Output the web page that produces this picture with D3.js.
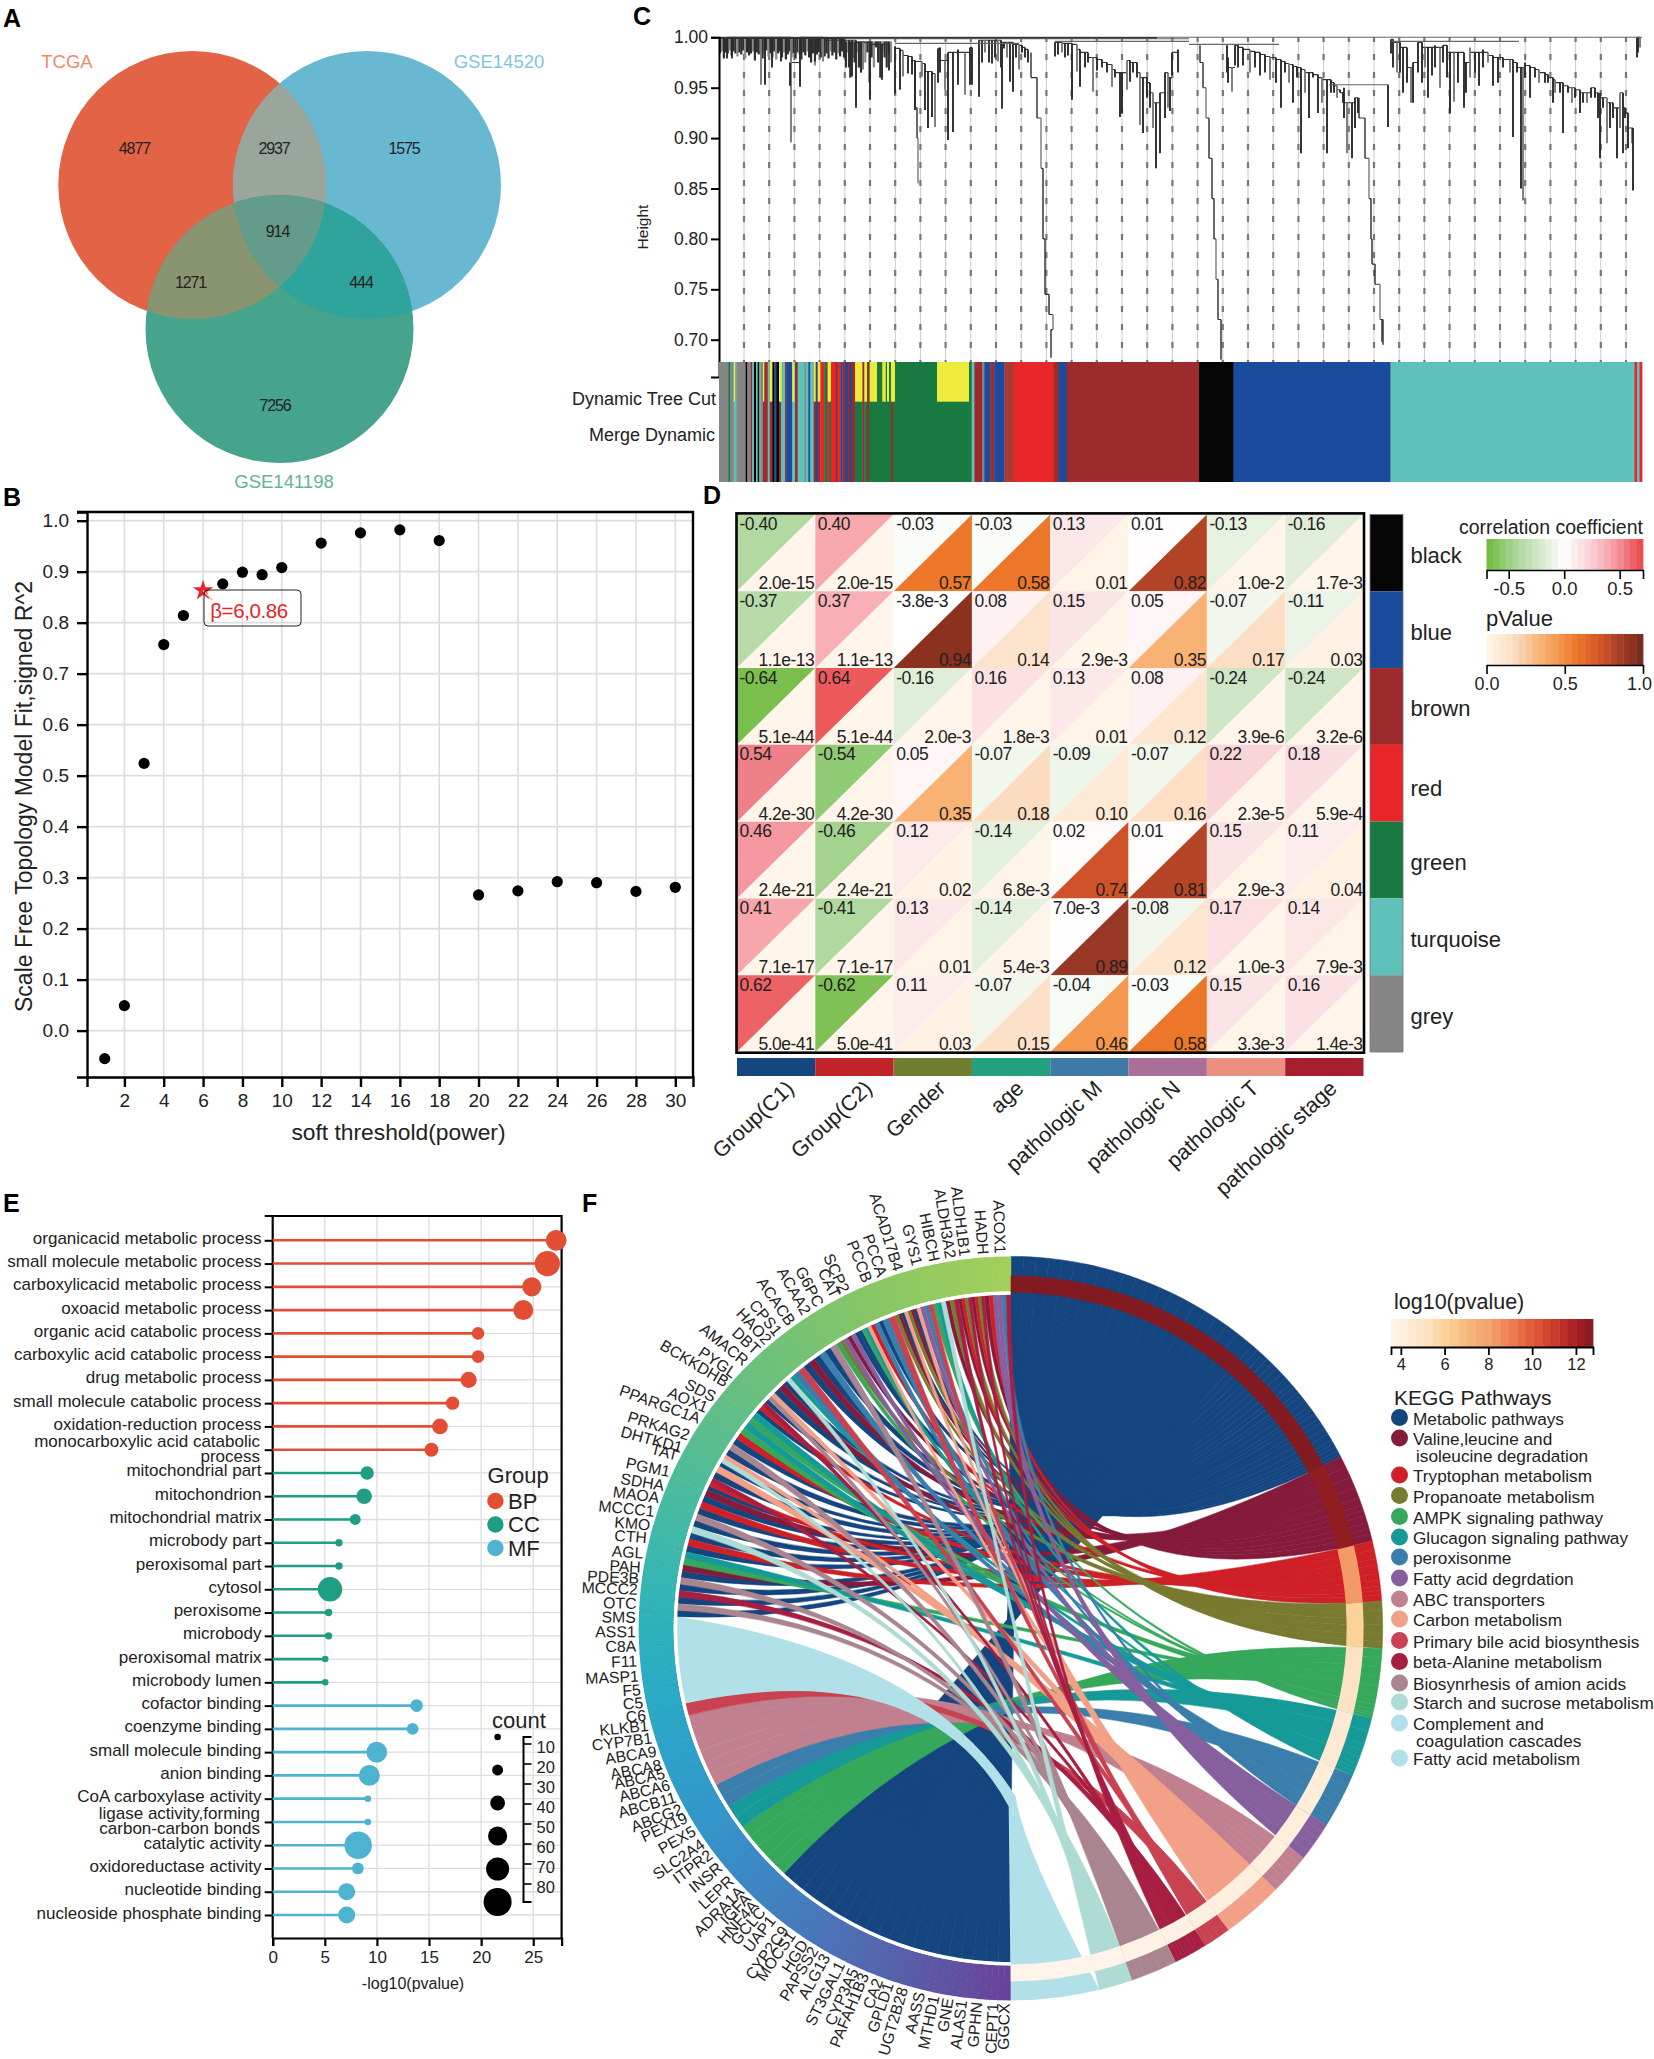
<!DOCTYPE html>
<html>
<head>
<meta charset="utf-8">
<script src="https://cdn.jsdelivr.net/npm/d3@7"></script>
<style>
body { margin: 0; background: #fff; }
text { font-family: "Liberation Sans", Arial, sans-serif; fill: #222; }
</style>
</head>
<body>
<svg id="fig" width="1654" height="2059"></svg>
<script>
// ---------- data ----------
// A: venn
const vennSets = ["TCGA", "GSE14520", "GSE141198"];
const vennColors = ["#e26346", "#68b8d2", "#46a48c"];
const vennLabelColors = ["#ef8a6f", "#7fc6dc", "#62b49e"];
const vennCounts = [4877, 2937, 1575, 914, 1271, 444, 7256];

// B: soft threshold
const powers = [1, 2, 3, 4, 5, 7, 8, 9, 10, 12, 14, 16, 18, 20, 22, 24, 26, 28, 30];
const fitValues = [-0.055, 0.049, 0.524, 0.757, 0.814, 0.876, 0.899, 0.894, 0.908, 0.956, 0.976, 0.982, 0.961, 0.266, 0.274, 0.292, 0.29, 0.273, 0.281];
const chosenPower = [6, 0.863];

// C: dendrogram stems are [leaf position, merge height, bottom height]
const fringeLeft = [.984, .986, .979, .985, .984, .987, .982, .986, .984, .981, .985, .983, .987, .979, .985, .982, .984, .986, .977, .985,
  .983, .986, .979, .984, .987, .981, .984, .98, .986, .978, .984, .986, .98, .985, .978, .983, .986, .98, .984, .979, .985, .983, .978, .985, .982, .986, .98, .975, .984, .972,
  .983, .985, .98, .986, .981, .984, .979, .986, .982, .985, .978, .984, .981, .986, .98];
const fringeMid = [.97, .985, .96, .98, .975, .985, .97, .965, .99, .975, .985, .955, .98, .97, .99, .975, .96, .985, .98, .97, .985, .975];
const longStems = [[8, 1, .979], [13, 1, .979], [42, 1, .953], [46, 1, .953], [53, 1, .97], [62, 1, .976], [72, 1, .896], [71, .975, .952], [81, 1, .951], [96, 1, .976], [104, 1, .976], [130, .997, .97],
  [133, .997, .961], [137, .997, .93], [144, .995, .968], [151, .995, .938], [163, .993, .958], [170, .993, .967]];
const stairA = [[176, .991, .944], [181, .989, .948], [184, .987, .961], [189, .982, .964], [193, .981, .963], [196, .977, .928], [203, .976, .961], [206, .974, .928], [209, .966, .91], [213, .966, .921], [216, .964, .911]];
const chainShort = [[196, .977, .93], [198, .93, .9], [199, .9, .855]];
const clusterB = [[219, .989, .955], [221, .99, .965], [226, .977, .948], [229, .985, .898], [234, .985, .906], [239, .988, .953], [246, .985, .943], [251, .99, .953], [253, .99, .953]];
const runMid = [[260, .997, .941], [263, .997, .975], [266, .997, .985], [270, .997, .975], [273, .997, .974], [276, .997, .98], [279, .997, .976], [282, .997, .97], [285, .995, .989], [283, .995, .929],
  [288, .995, .98], [291, .995, .956], [294, .995, .946], [297, .993, .98], [300, .993, .968], [303, .992, .985], [306, .99, .98], [309, .988, .975]];
const chainA = [[312, .985, .96], [318, .96, .92], [322, .92, .87], [324, .87, .8], [326, .8, .745], [330, .745, .725], [334, .725, .71], [332, .71, .682]];
const stairB = [[336, .995, .981], [339, .995, .983], [343, .995, .985], [346, .994, .98], [349, .994, .982], [353, .994, .938], [358, .993, .966], [361, .988, .951], [366, .985, .97], [369, .985, .975],
  [374, .98, .946], [378, .98, .967], [383, .978, .97], [388, .975, .965], [393, .973, .951], [396, .968, .96], [401, .965, .921], [403, .965, .925], [408, .977, .948], [411, .977, .956], [414, .975, .965], [418, .975, .96],
  [421, .965, .913], [424, .96, .905], [428, .96, .94], [431, .955, .93], [434, .945, .91], [437, .935, .87], [441, .945, .885], [446, .965, .92], [449, .965, .93], [451, .96, .927], [453, .985, .962], [459, .988, .965]];
const chainB = [[481, .992, .975], [484, .975, .95], [487, .95, .92], [490, .92, .88], [493, .88, .84], [495, .84, .8], [497, .8, .76], [499, .76, .72], [502, .72, .68]];
const stairC = [[508, .992, .965], [509, .98, .955], [513, .97, .946], [516, .992, .972], [519, .992, .97], [524, .99, .972], [531, .988, .965], [536, .986, .97], [541, .985, .962], [546, .983, .965],
  [551, .981, .958], [557, .98, .955], [562, .978, .93], [566, .976, .965], [570, .974, .955], [574, .973, .935], [578, .971, .96], [582, .97, .885], [586, .968, .945], [590, .965, .92], [594, .965, .96],
  [599, .963, .925], [603, .96, .935], [608, .958, .885], [612, .958, .945], [615, .955, .945], [618, .952, .94], [621, .948, .945], [624, .945, .935], [625, .95, .92], [628, .935, .885], [633, .935, .88], [636, .94, .91], [639, .94, .925]];
const chainC = [[640, .94, .92], [646, .92, .88], [650, .88, .84], [652, .84, .8], [653, .8, .775], [656, .775, .755], [661, .755, .72], [664, .72, .695], [663, .72, .698]];
const stemsEnd = [[669, .953, .911]];
const stairD = [[672, .998, .984], [674, .998, .97], [678, .995, .965], [681, .995, .965], [684, .99, .945], [688, .99, .955], [692, .97, .935], [694, .975, .935], [699, .995, .965], [703, .995, .955], [706, .99, .97], [709, .99, .94],
  [713, .99, .962], [716, .992, .97], [721, .99, .95], [724, .992, .975], [728, .992, .96], [731, .985, .925], [735, .985, .936], [739, .985, .955], [745, .985, .93], [747, .975, .945], [751, .99, .96], [756, .985, .965], [760, .985, .952],
  [764, .988, .97], [769, .985, .975], [774, .982, .952], [779, .98, .955], [784, .98, .97], [791, .978, .965], [794, .978, .901], [798, .975, .965], [802, .97, .85], [804, .97, .838], [806, .975, .96], [811, .972, .94], [816, .97, .96], [820, .968, .955],
  [826, .965, .955], [829, .963, .955], [834, .96, .935], [836, .958, .945], [841, .955, .945], [844, .955, .905], [849, .952, .945], [853, .95, .935], [856, .95, .94], [861, .948, .925], [864, .945, .935], [868, .945, .935], [872, .95, .94], [876, .95, .94], [879, .945, .92]];
const stairE = [[881, .945, .88], [884, .94, .93], [888, .94, .895], [891, .935, .91], [894, .935, .92], [898, .93, .88], [901, .945, .91], [904, .945, .885], [906, .93, .92], [909, .925, .89], [913, .91, .895], [914, .91, .848]];
const stemsTail = [[918, 1, .98], [919, 1, .985], [921, 1, .99]];
const mergeLines = [[0, 923, 1], [0, 438, .9993], [125, 470, .9985], [176, 300, .994], [336, 470, .996], [470, 560, .993], [610, 669, .953], [672, 800, .996]];

// module stripes: [leaf position where the stripe ends, colour key]
const moduleColor = { k: "#050505", b: "#1a4b9c", n: "#9d2a2c", r: "#e82528", g: "#187a40", t: "#5ec2bb", e: "#858585", y: "#eeea3c", o: "#a83a34" };
const bandStripes = [[9.3, "e"], [11.3, "g"], [14.7, "e"], [17.3, "t"], [26.7, "e"], [28.3, "k"], [31.7, "e"], [33.3, "n"], [35, "t"], [37, "k"], [38.7, "t"], [40.3, "k"], [41.7, "t"], [44, "e"], [48.7, "n"], [50.7, "t"], [53.3, "n"],
  [55.3, "k"], [57.3, "b"], [60, "k"], [62, "n"], [66, "t"], [67.3, "n"], [73.3, "b"], [76, "t"], [78.7, "n"], [85.3, "t"], [86.7, "e"], [89.3, "t"], [91.3, "b"], [94.7, "t"], [96.7, "n"], [98.7, "b"], [101.3, "n"], [105.3, "r"],
  [108, "g"], [110, "r"], [112, "g"], [116.7, "r"], [118.7, "n"], [121.3, "r"], [123.3, "b"], [126, "n"], [128.7, "b"], [130.7, "n"], [132.7, "b"], [136, "n"], [143.3, "g"], [145.3, "n"], [148, "g"], [150, "n"], [172, "g"], [174, "n"],
  [252.7, "g"], [255.3, "t"], [263.3, "n"], [265.3, "e"], [271.3, "b"], [275.3, "n"], [285.3, "b"], [294.7, "o"], [334.7, "r"], [339.6, "n"], [347.6, "b"], [480, "n"], [514.5, "k"], [671.5, "b"], [915.5, "t"], [918, "r"], [920.5, "t"], [923, "r"]];
const yellowRanges = [[14.7, 16], [44, 45.3], [50.7, 53.3], [60, 62.7], [73.3, 75.3], [94.7, 96.7], [98.7, 101.3], [108.7, 112], [136, 143.3], [145.3, 148], [150.7, 158], [163.3, 166.7], [168, 170], [172, 176], [218, 250]];
const guideStart = 25, guideStep = 25.2;

// D: module / trait correlation
const modules = ["black", "blue", "brown", "red", "green", "turquoise", "grey"];
const traits = ["Group(C1)", "Group(C2)", "Gender", "age", "pathologic M", "pathologic N", "pathologic T", "pathologic stage"];
const traitColors = ["#14467f", "#c02428", "#6f7f2f", "#25a07f", "#3f7aa5", "#a96f96", "#eb9080", "#a71e2e"];
const moduleBarColors = ["#050505", "#1a4b9c", "#9d2a2c", "#e82528", "#187a40", "#5ec2bb", "#858585"];
const corrText = [
  ["-0.40", "0.40", "-0.03", "-0.03", "0.13", "0.01", "-0.13", "-0.16"],
  ["-0.37", "0.37", "-3.8e-3", "0.08", "0.15", "0.05", "-0.07", "-0.11"],
  ["-0.64", "0.64", "-0.16", "0.16", "0.13", "0.08", "-0.24", "-0.24"],
  ["0.54", "-0.54", "0.05", "-0.07", "-0.09", "-0.07", "0.22", "0.18"],
  ["0.46", "-0.46", "0.12", "-0.14", "0.02", "0.01", "0.15", "0.11"],
  ["0.41", "-0.41", "0.13", "-0.14", "7.0e-3", "-0.08", "0.17", "0.14"],
  ["0.62", "-0.62", "0.11", "-0.07", "-0.04", "-0.03", "0.15", "0.16"]];
const pText = [
  ["2.0e-15", "2.0e-15", "0.57", "0.58", "0.01", "0.82", "1.0e-2", "1.7e-3"],
  ["1.1e-13", "1.1e-13", "0.94", "0.14", "2.9e-3", "0.35", "0.17", "0.03"],
  ["5.1e-44", "5.1e-44", "2.0e-3", "1.8e-3", "0.01", "0.12", "3.9e-6", "3.2e-6"],
  ["4.2e-30", "4.2e-30", "0.35", "0.18", "0.10", "0.16", "2.3e-5", "5.9e-4"],
  ["2.4e-21", "2.4e-21", "0.02", "6.8e-3", "0.74", "0.81", "2.9e-3", "0.04"],
  ["7.1e-17", "7.1e-17", "0.01", "5.4e-3", "0.89", "0.12", "1.0e-3", "7.9e-3"],
  ["5.0e-41", "5.0e-41", "0.03", "0.15", "0.46", "0.58", "3.3e-3", "1.4e-3"]];

// E: enrichment lollipops
const terms = ["organicacid metabolic process", "small molecule metabolic process", "carboxylicacid metabolic process", "oxoacid metabolic process",
  "organic acid catabolic process", "carboxylic acid catabolic process", "drug metabolic process", "small molecule catabolic process", "oxidation-reduction process",
  "monocarboxylic acid catabolic|process", "mitochondrial part", "mitochondrion", "mitochondrial matrix", "microbody part", "peroxisomal part", "cytosol", "peroxisome",
  "microbody", "peroxisomal matrix", "microbody lumen", "cofactor binding", "coenzyme binding", "small molecule binding", "anion binding", "CoA carboxylase activity",
  "ligase activity,forming|carbon-carbon bonds", "catalytic activity", "oxidoreductase activity", "nucleotide binding", "nucleoside phosphate binding"];
const termGroups = ["BP", "CC", "MF"];
const groupColors = ["#e24e34", "#1f9e83", "#4db3cf"];
const termLogP = [27.2, 26.35, 24.86, 24.04, 19.7, 19.7, 18.8, 17.26, 16.05, 15.23, 9.06, 8.77, 7.92, 6.36, 6.36, 5.5, 5.36, 5.36, 5.04, 5.04, 13.81, 13.42, 9.98, 9.27, 9.13, 9.13, 8.2, 8.17, 7.1, 7.1];
const termCount = [59, 75, 53, 56, 29, 29, 42, 32, 40, 34, 32, 40, 23, 10, 10, 72, 10, 10, 7, 7, 29, 26, 59, 59, 7, 7, 83, 26, 45, 45];
const countTicks = [10, 20, 30, 40, 50, 60, 70, 80];
const countLegend = [7, 23, 37, 53, 67, 85];

// F: KEGG chord
const pathways = ["Metabolic pathways", "Valine,leucine and|isoleucine degradation", "Tryptophan metabolism", "Propanoate metabolism", "AMPK signaling pathway", "Glucagon signaling pathway",
  "peroxisonme", "Fatty acid degrdation", "ABC transporters", "Carbon metabolism", "Primary bile acid biosynthesis", "beta-Alanine metabolism", "Biosynrhesis of amion acids",
  "Starch and sucrose metabolism", "Complement and|coagulation cascades", "Fatty acid metabolism"];
const pathwayColors = ["#14457f", "#841b3b", "#cf2027", "#787a30", "#36a85c", "#169a98", "#3a7eab", "#855f9e", "#c0808f", "#f2a188", "#c84252", "#a61e42", "#a98590", "#aedbd3", "#b2e0e8", "#b2e0e8"];
const pathwayShare = [62.5, 13.9, 9.4, 7.3, 10.9, 9.3, 8.6, 6.2, 6.5, 9.6, 4.3, 5.2, 7.3, 5.2, 13.8];
const pathwayLogP = [12.7, 12.4, 8.2, 6, 5, 4.4, 4.2, 4.1, 4, 4, 3.9, 3.8, 3.7, 3.6, 3.6];
const complementIndex = 14;
const lowerGenes = ["GGCX", "CEPT1", "GPHN", "ALAS1", "GNE", "MTHD1", "AASS", "UGT2B28", "GPLD1", "CA2", "PAFAH1B3", "CYP3A5", "ST3GAL1", "ALG13", "PAPSS2", "HGD", "MOCS1", "CYP2C9", "UAP1", "GCLC",
  "HNF4A", "IGFA", "ADRA1A", "LEPR", "INSR", "ITPR2", "SLC2A4", "PEX5", "PEX19", "ABCG2", "ABCB11", "ABCA6", "ABCA5", "ABCA8", "ABCA9", "CYP7B1", "KLKB1", "C6", "C5", "F5", "MASP1", "F11", "C8A"];
const lowerPaths = [0, 0, 0, 0, 0, 0, 0, 0, 0, 0, 0, 0, 0, 0, 0, 0, 0, 0, 0, 0, 4, 4, 4, 4, 4, 5, 5, 6, 6, 8, 8, 8, 8, 8, 8, 10, 14, 14, 14, 14, 14, 14, 14];
const lowerLabelAngles = [181, 182.7, 185.2, 187.5, 189.6, 191.8, 194, 196.7, 199, 200.7, 203, 204.7, 207, 209.5, 211.6, 213.4, 215.7, 217, 219.5, 221.5,
  223, 224.5, 226, 228.2, 230.8, 233.2, 235.2, 237.5, 239.8, 241.3, 243.3, 245.4, 247.3, 248.7, 250.9, 253, 255, 256.6, 258.6, 260.6, 262.7, 265, 267.3];
const upperGenes = ["ASS1", "SMS", "OTC", "MCCC2", "PDE3B", "PAH", "AGL", "CTH", "KMO", "MCCC1", "MAOA", "SDHA", "PGM1", "TAT", "DHTKD1", "PRKAG2", "PPARGC1A", "AOX1", "SDS", "BCKKDHB",
  "PYGL", "AMACR", "DBT", "HAO2", "CPS1", "ACACB", "ACAA2", "G6PC", "CAT", "SCP2", "PCCB", "PCCA", "ACAD17B4", "GYS1", "HIBCH", "ALDH3A2", "ALDH1B1", "HADH", "ACOX1"];
const upperPaths = [[0, 12], [0, 11], [0, 12], [0, 1], [4, 5], [0, 2], [0, 13], [0, 12], [0, 2], [0, 1], [0, 2, 11], [0, 9], [0, 13, 9], [0, 12], [0, 2], [4, 5], [4, 5], [0, 2, 11], [0, 12, 9], [0, 1],
  [0, 13, 5], [6, 10], [0, 1], [0, 6], [0, 12], [4, 3, 7], [1, 7, 0], [0, 4, 5, 9], [2, 6, 0], [6, 10], [3, 1, 0, 9], [3, 1, 0, 9], [7, 6, 10], [4, 5, 13], [1, 3, 11], [1, 2, 3, 11], [1, 2, 3, 11], [1, 2, 7], [7, 6, 11]];
const upperLabelAngles = [269.5, 271.7, 273.8, 276, 277.7, 279.4, 281.6, 284, 286, 288.2, 290.4, 292.4, 294.7, 297.5, 298.8, 301, 304, 306, 308, 310.9,
  312.7, 315.2, 317.6, 319.8, 321.8, 324.3, 327.1, 329.4, 332.2, 333.8, 337.6, 340, 342.6, 345.6, 348.3, 350.8, 353, 355.8, 358.4];
const ringStops = ["#6a4299", "#4a74b8", "#2e9ad0", "#25b4c0", "#5abd90", "#7ec367", "#a4d05a"];

// ---------- helpers ----------
const svg = d3.select("#fig");
const rad = d => d * Math.PI / 180;

function txt(g, x, y, s, size, opts = {}) {
  return g.append("text").attr("x", x).attr("y", y).text(s)
    .attr("font-size", size)
    .attr("text-anchor", opts.anchor || "start")
    .attr("dominant-baseline", "central")
    .attr("letter-spacing", opts.spacing || null)
    .attr("font-weight", opts.weight || null)
    .style("fill", opts.fill || null);
}

function styleAxis(g, size, width) {
  g.selectAll("text").attr("font-size", size).style("font-family", '"Liberation Sans", Arial, sans-serif').style("fill", "#222");
  g.selectAll("line, path").attr("stroke", "#000").attr("stroke-width", width);
}

// panel letters
[["A", 3, 18], ["B", 3, 497], ["C", 633, 16], ["D", 703, 495], ["E", 3, 1203], ["F", 582, 1203]].forEach(d => {
  txt(svg, d[1], d[2], d[0], 25, { weight: "bold" }).style("fill", "#000");
});

// ---------- A venn ----------
const gA = svg.append("g");
const vennR = 134;
const vennPos = [[192.3, 185], [367, 185], [279.5, 329]];
const defs = svg.append("defs");
vennPos.forEach((p, i) => {
  defs.append("clipPath").attr("id", "clip" + i).append("circle").attr("cx", p[0]).attr("cy", p[1]).attr("r", vennR);
});
vennPos.forEach((p, i) => {
  gA.append("circle").attr("cx", p[0]).attr("cy", p[1]).attr("r", vennR).attr("fill", vennColors[i]);
});
// overlaps
const overlapFills = [[0, 1, "#9aa59c"], [0, 2, "#889570"], [1, 2, "#2ea49c"]];
overlapFills.forEach(o => {
  gA.append("g").attr("clip-path", `url(#clip${o[0]})`).append("circle")
    .attr("cx", vennPos[o[1]][0]).attr("cy", vennPos[o[1]][1]).attr("r", vennR).attr("fill", o[2]);
});
gA.append("g").attr("clip-path", "url(#clip0)").append("g").attr("clip-path", "url(#clip1)").append("circle")
  .attr("cx", vennPos[2][0]).attr("cy", vennPos[2][1]).attr("r", vennR).attr("fill", "#649c8c");
const vennNumPos = [[134.4, 148], [274, 148], [404, 148], [277.5, 231], [190.5, 282], [361, 282], [275, 405]];
vennCounts.forEach((c, i) => txt(gA, vennNumPos[i][0], vennNumPos[i][1], c, 16, { anchor: "middle", spacing: "-1.1px" }));
[[67, 61], [499, 61], [284, 481]].forEach((p, i) => txt(gA, p[0], p[1], vennSets[i], 18.5, { anchor: "middle", fill: vennLabelColors[i] }));

// ---------- B scatter ----------
const gB = svg.append("g");
const xB = d3.scaleLinear().domain([0.1, 30.9]).range([87, 693]);
const yB = d3.scaleLinear().domain([-0.091, 1.017]).range([1077, 512]);
const xTicksB = d3.range(2, 31, 2);
const yTicksB = d3.range(0, 11).map(d => d / 10);
gB.append("g").selectAll("line").data(xTicksB).join("line")
  .attr("x1", d => xB(d)).attr("x2", d => xB(d)).attr("y1", 512).attr("y2", 1077).attr("stroke", "#ddd").attr("stroke-width", 1.6);
gB.append("g").selectAll("line").data(yTicksB).join("line")
  .attr("x1", 87).attr("x2", 693).attr("y1", d => yB(d)).attr("y2", d => yB(d)).attr("stroke", "#ddd").attr("stroke-width", 1.6);
const axB = gB.append("g").attr("transform", "translate(0,1077)")
  .call(d3.axisBottom(xB).tickValues(xTicksB).tickSize(10).tickSizeOuter(10).tickPadding(7));
styleAxis(axB, 19, 2.4);
const ayB = gB.append("g").attr("transform", "translate(87,0)")
  .call(d3.axisLeft(yB).tickValues(yTicksB).tickFormat(d3.format(".1f")).tickSize(10).tickSizeOuter(10).tickPadding(8));
styleAxis(ayB, 19, 2.4);
gB.append("path").attr("d", "M77,512H693V1077").attr("fill", "none").attr("stroke", "#000").attr("stroke-width", 2.4);
gB.selectAll("circle.pt").data(d3.zip(powers, fitValues)).join("circle").attr("class", "pt")
  .attr("cx", d => xB(d[0])).attr("cy", d => yB(d[1])).attr("r", 5.6).attr("fill", "#000");
gB.append("path").attr("transform", `translate(${xB(chosenPower[0])},${yB(chosenPower[1])})`)
  .attr("d", d3.symbol(d3.symbolStar, 130)()).attr("fill", "#e8232a");
gB.append("line").attr("x1", xB(6)).attr("y1", yB(.863)).attr("x2", 212).attr("y2", 600).attr("stroke", "#f6b8b0").attr("stroke-width", 1.5);
gB.append("rect").attr("x", 204).attr("y", 590).attr("width", 97).attr("height", 36).attr("rx", 4)
  .attr("fill", "none").attr("stroke", "#222").attr("stroke-width", 1);
txt(gB, 249, 610, "β=6,0.86", 20.5, { anchor: "middle", fill: "#e8232a", spacing: "-0.4px" });
txt(gB, 398.5, 1132, "soft threshold(power)", 22.8, { anchor: "middle" });
txt(gB, 0, 0, "Scale Free Topology Model Fit,signed R^2", 23, { anchor: "middle" })
  .attr("transform", "translate(23.5,796.5) rotate(-90)");

// ---------- C dendrogram ----------
const gC = svg.append("g");
const xC = d3.scaleLinear().domain([0, 923]).range([719, 1642]);
const yC = d3.scaleLinear().domain([1, 0.663]).range([37.3, 377]);
const guides = d3.range(guideStart, 923, guideStep);
gC.append("g").selectAll("line").data(guides).join("line")
  .attr("x1", d => xC(d)).attr("x2", d => xC(d)).attr("y1", 37).attr("y2", 362).attr("stroke", "#c9c9c9").attr("stroke-width", 1);
gC.append("g").selectAll("line").data(guides).join("line")
  .attr("x1", d => xC(d)).attr("x2", d => xC(d)).attr("y1", 37).attr("y2", 362)
  .attr("stroke", "#777").attr("stroke-width", 2.2).attr("stroke-dasharray", "6 12").attr("stroke-dashoffset", 1);

// fringes of short stems come as bottoms over a run of leaves
function drawFringe(bottoms, from, to, top) {
  const leaf = d3.scalePoint().domain(d3.range(bottoms.length)).range([from, to]);
  gC.append("g").selectAll("line").data(bottoms).join("line")
    .attr("x1", (d, i) => xC(leaf(i))).attr("x2", (d, i) => xC(leaf(i)))
    .attr("y1", yC(top)).attr("y2", d => yC(d))
    .attr("stroke", (d, i) => i % 4 === 1 ? "#8a8a8a" : "#2e2e2e").attr("stroke-width", 2.2);
}
drawFringe(fringeLeft, 1, 125, 1);
drawFringe(fringeMid, 127, 172, .996);

function drawStems(stems, width) {
  const g = gC.append("g").attr("fill", "none");
  // merge links between neighbouring stems
  const links = d3.pairs(stems).map(p => `M${xC(p[0][0])},${yC(Math.min(p[0][1], p[1][1]))}H${xC(p[1][0])}`).join("");
  g.append("path").attr("d", links).attr("stroke", "#333").attr("stroke-width", 1.1);
  g.selectAll("line").data(stems).join("line")
    .attr("x1", d => xC(d[0])).attr("x2", d => xC(d[0])).attr("y1", d => yC(d[1])).attr("y2", d => yC(d[2]))
    .attr("stroke", (d, i) => i % 4 === 2 ? "#7a7a7a" : "#2a2a2a").attr("stroke-width", width);
}
[longStems, stairA, clusterB, runMid, stairB, stairC, stairD, stairE, stemsEnd, stemsTail].forEach(s => drawStems(s, 1.9));
[chainShort, chainA, chainB, chainC].forEach(s => drawStems(s, 1.4));
gC.append("g").selectAll("line").data(mergeLines).join("line")
  .attr("x1", d => xC(d[0])).attr("x2", d => xC(d[1])).attr("y1", d => yC(d[2])).attr("y2", d => yC(d[2]))
  .attr("stroke", (d, i) => i === 1 ? "#333" : "#666").attr("stroke-width", (d, i) => i === 1 ? 2.2 : 1.1);

const ayC = gC.append("g").attr("transform", "translate(719,0)")
  .call(d3.axisLeft(yC).tickValues(d3.range(0.7, 1.001, 0.05)).tickFormat(d3.format(".2f")).tickSize(8).tickSizeOuter(8).tickPadding(3));
styleAxis(ayC, 17.5, 2);
txt(gC, 0, 0, "Height", 15.5, { anchor: "middle" }).attr("transform", "translate(642,227) rotate(-90)");
txt(gC, 716, 399, "Dynamic Tree Cut", 18, { anchor: "end" });
txt(gC, 715, 435, "Merge Dynamic", 18, { anchor: "end" });

// colour band: both rows use the merged colours, dynamic row adds yellow
gC.append("g").selectAll("rect").data(bandStripes).join("rect")
  .attr("x", (d, i) => xC(i ? bandStripes[i - 1][0] : 0))
  .attr("width", (d, i) => xC(d[0]) - xC(i ? bandStripes[i - 1][0] : 0) + 0.4)
  .attr("y", 362).attr("height", 120)
  .attr("fill", d => moduleColor[d[1]]);
gC.append("g").selectAll("rect").data(yellowRanges).join("rect")
  .attr("x", d => xC(d[0])).attr("width", d => xC(d[1]) - xC(d[0])).attr("y", 362).attr("height", 39.7)
  .attr("fill", moduleColor.y);

// ---------- D heatmap ----------
const gD = svg.append("g");
const xD = d3.scaleBand().domain(traits).range([737, 1363.5]);
const yD = d3.scaleBand().domain(modules).range([514.5, 1052]);
const corrColor = d3.scaleLinear().domain([-0.7, -0.64, -0.54, -0.4, -0.24, -0.13, 0, 0.13, 0.24, 0.4, 0.54, 0.64, 0.7])
  .range(["#6db83c", "#7abf4d", "#92cb76", "#b2d9a2", "#cfe6c6", "#e6f1e0", "#ffffff", "#fce8e8", "#f8d0d6", "#f8a9ae", "#f08088", "#ec5a5c", "#ea4a4c"]);
const pColor = d3.scaleLinear().domain([0, 0.03, 0.12, 0.18, 0.35, 0.46, 0.57, 0.74, 0.82, 0.89, 0.94, 1])
  .range(["#fff5ea", "#fff2e4", "#fde6d0", "#fbdcc0", "#f7b274", "#f4984f", "#ee7829", "#d05228", "#b24327", "#983725", "#8a3120", "#6f2a1a"]);

const triLine = d3.line();
modules.forEach((m, r) => {
  traits.forEach((t, c) => {
    const x0 = xD(t), x1 = x0 + xD.bandwidth(), y0 = yD(m), y1 = y0 + yD.bandwidth();
    gD.append("path").attr("d", triLine([[x0, y0], [x1, y0], [x0, y1]]) + "Z").attr("fill", corrColor(+corrText[r][c]));
    gD.append("path").attr("d", triLine([[x1, y0], [x1, y1], [x0, y1]]) + "Z").attr("fill", pColor(+pText[r][c]));
    txt(gD, x0 + 2.5, y0 + 9.5, corrText[r][c], 17.5, { spacing: "-0.5px" });
    txt(gD, x1 - 1, y1 - 8, pText[r][c], 17.5, { anchor: "end", spacing: "-0.5px" });
  });
});
gD.append("rect").attr("x", 736.5).attr("y", 513.4).attr("width", 627.5).attr("height", 539.3)
  .attr("fill", "none").attr("stroke", "#000").attr("stroke-width", 2.6);

// module bar and labels
gD.append("g").selectAll("rect").data(modules).join("rect")
  .attr("x", 1370).attr("width", 33).attr("y", d => yD(d)).attr("height", yD.bandwidth())
  .attr("fill", (d, i) => moduleBarColors[i]);
gD.append("rect").attr("x", 1370).attr("y", 514.5).attr("width", 33).attr("height", 537.5).attr("fill", "none").attr("stroke", "#777").attr("stroke-width", 0.8);
modules.forEach((m, i) => txt(gD, 1410.5, yD(m) + yD.bandwidth() / 2 + (m === "red" ? 5 : 2.5), m, 22));

// trait bar and rotated labels
gD.append("g").selectAll("rect").data(traits).join("rect")
  .attr("x", d => xD(d)).attr("width", xD.bandwidth()).attr("y", 1058).attr("height", 18)
  .attr("fill", (d, i) => traitColors[i]);
traits.forEach((t, i) => {
  gD.append("text").text(t).attr("font-size", 21.5).attr("text-anchor", "end")
    .attr("transform", `translate(${xD(t) + xD.bandwidth() / 2 + (i < 2 ? 19 : 14)},1090) rotate(-43)`);
});

// legends
const corrLegend = d3.scaleLinear().domain([-0.7, 0.71]).range([1486.5, 1643]);
const corrSteps = d3.range(-0.7, 0.7, 1.41 / 24);
gD.append("g").selectAll("rect").data(corrSteps).join("rect")
  .attr("x", d => corrLegend(d)).attr("width", 156.5 / 24 + 0.4).attr("y", 539).attr("height", 31)
  .attr("fill", d => corrColor(d + 0.03));
const acl = gD.append("g").attr("transform", "translate(0,570)")
  .call(d3.axisBottom(corrLegend).tickValues([-0.5, 0, 0.5]).tickFormat(d3.format(".1f")).tickSize(9).tickSizeOuter(9).tickPadding(3));
styleAxis(acl, 18.5, 1.6);
acl.selectAll("text").text(function () { return this.textContent.replace("−", "-"); });
txt(gD, 1459, 527, "correlation coefficient", 19.5);
txt(gD, 1486, 618, "pValue", 22);
const pLegend = d3.scaleLinear().domain([0, 1]).range([1486.5, 1643]);
gD.append("g").selectAll("rect").data(d3.range(0, 1, 1 / 24)).join("rect")
  .attr("x", d => pLegend(d)).attr("width", 156.5 / 24 + 0.4).attr("y", 634).attr("height", 31)
  .attr("fill", d => pColor(d + 0.02));
const apl = gD.append("g").attr("transform", "translate(0,665)")
  .call(d3.axisBottom(pLegend).tickValues([0, 0.5, 1]).tickFormat(d3.format(".1f")).tickSize(9).tickSizeOuter(0).tickPadding(3));
styleAxis(apl, 18, 1.6);
// last label pulled in so it stays on the page
apl.selectAll(".tick").filter(d => d === 1).select("text").attr("dx", -4);

// ---------- E lollipops ----------
const gE = svg.append("g");
const xE = d3.scaleLinear().domain([0, 27.72]).range([272.7, 561.6]);
const yE = d3.scalePoint().domain(terms).range([1240.3, 1915]);
const rE = d3.scaleLinear().domain([5, 85]).range([3, 14]);
const groupOf = i => Math.floor(i / 10);
const xTicksE = [0, 5, 10, 15, 20, 25];
gE.append("g").selectAll("line").data(xTicksE.slice(1)).join("line")
  .attr("x1", d => xE(d)).attr("x2", d => xE(d)).attr("y1", 1216).attr("y2", 1938).attr("stroke", "#ddd").attr("stroke-width", 1.3);
gE.append("g").selectAll("line").data(terms).join("line")
  .attr("x1", 272.7).attr("x2", 561.6).attr("y1", d => yE(d)).attr("y2", d => yE(d)).attr("stroke", "#ddd").attr("stroke-width", 1.3);
const ayE = gE.append("g").attr("transform", "translate(272.7,0)").call(d3.axisLeft(yE).tickSize(8).tickFormat(""));
ayE.select(".domain").remove();
ayE.selectAll("line").attr("stroke", "#000").attr("stroke-width", 2);
const axE = gE.append("g").attr("transform", "translate(0,1938)")
  .call(d3.axisBottom(xE).tickValues(xTicksE).tickSize(8).tickSizeOuter(8).tickPadding(5));
styleAxis(axE, 17, 2.2);
gE.append("path").attr("d", "M264.7,1216H561.6V1938M272.7,1216V1938").attr("fill", "none").attr("stroke", "#000").attr("stroke-width", 2.2);
gE.append("g").selectAll("line").data(terms).join("line")
  .attr("x1", 272.7).attr("x2", (d, i) => xE(termLogP[i])).attr("y1", d => yE(d)).attr("y2", d => yE(d))
  .attr("stroke", (d, i) => groupColors[groupOf(i)]).attr("stroke-width", 2.6);
gE.append("g").selectAll("circle").data(terms).join("circle")
  .attr("cx", (d, i) => xE(termLogP[i])).attr("cy", d => yE(d)).attr("r", (d, i) => rE(termCount[i]))
  .attr("fill", (d, i) => groupColors[groupOf(i)]);
terms.forEach(t => {
  const parts = t.split("|");
  if (parts.length === 1) {
    txt(gE, 261.5, yE(t) - 2, t, 17, { anchor: "end" });
  } else {
    txt(gE, 260, yE(t) - 8, parts[0], 17, { anchor: "end" });
    txt(gE, 260, yE(t) + 6.5, parts[1], 17, { anchor: "end" });
  }
});
txt(gE, 413, 1983, "-log10(pvalue)", 16, { anchor: "middle" });
txt(gE, 487.6, 1475, "Group", 22);
termGroups.forEach((g, i) => {
  const y = d3.scalePoint().domain(termGroups).range([1501, 1548])(g);
  gE.append("circle").attr("cx", 495.4).attr("cy", y).attr("r", 8.2).attr("fill", groupColors[i]);
  txt(gE, 508, y, g, 22);
});
txt(gE, 492, 1720, "count", 22);
const yCountDots = d3.scalePoint().domain(countLegend).range([1737, 1902]);
gE.append("g").selectAll("circle").data(countLegend).join("circle")
  .attr("cx", 497.6).attr("cy", d => yCountDots(d)).attr("r", d => rE(d)).attr("fill", "#000");
const yCount = d3.scaleLinear().domain([10, 80]).range([1747, 1887]);
const acE = gE.append("g").attr("transform", "translate(523.5,0)");
acE.append("path").attr("d", "M8,1737H0V1902H8").attr("fill", "none").attr("stroke", "#000").attr("stroke-width", 2);
countTicks.forEach(c => {
  acE.append("line").attr("x1", 0).attr("x2", 8).attr("y1", yCount(c) - 3).attr("y2", yCount(c) - 3).attr("stroke", "#000").attr("stroke-width", 1.6);
  txt(acE, 13, yCount(c), c, 16.5);
});

// ---------- F chord ----------
const gF = svg.append("g").attr("transform", "translate(1010.7,1628.4)");
const outerR = 372, ringIn = 337, chordIn = 333.5, pRingOut = 353, pRingIn = 336;
const bandLower = d3.scaleBand().domain(lowerGenes).range([180, 272]);
const bandUpper = d3.scaleBand().domain(upperGenes).range([272, 360]);

// gene side slots
const links = [];
lowerGenes.forEach((g, i) => {
  const a = bandLower(g);
  links.push({ gene: g, path: lowerPaths[i], g0: a, g1: a + bandLower.bandwidth() });
});
upperGenes.forEach((g, i) => {
  const a = bandUpper(g), w = bandUpper.bandwidth() / upperPaths[i].length;
  upperPaths[i].forEach((p, k) => links.push({ gene: g, path: p, g0: a + k * w, g1: a + (k + 1) * w }));
});

// pathway side slots, each pathway filled in gene order
const shareTotal = d3.sum(pathwayShare);
let start = 0;
const pathArcs = pathwayShare.map((s, i) => {
  const a0 = start, a1 = start + s * 180 / shareTotal;
  start = a1;
  const own = links.filter(l => l.path === i);
  const tot = d3.sum(own, l => l.g1 - l.g0);
  let cur = a0;
  own.forEach(l => {
    const w = (l.g1 - l.g0) * (a1 - a0) / tot;
    l.p0 = cur; l.p1 = cur + w; cur += w;
  });
  return { i, a0, a1 };
});

const ribbon = d3.ribbon().sourceRadius(chordIn).targetRadius(outerR);
pathwayShare.forEach((s, i) => {
  if (i === complementIndex) return;
  gF.append("g").selectAll("path").data(links.filter(l => l.path === i)).join("path")
    .attr("d", l => ribbon({
      source: { startAngle: rad(l.g0), endAngle: rad(l.g1) },
      target: { startAngle: rad(l.p0), endAngle: rad(l.p1) }
    }))
    .attr("fill", pathwayColors[i])
    .attr("stroke", pathwayColors[i]).attr("stroke-width", 0.5);
});

// complement band is pinched to a waist below the centre in the reference
(function drawComplement() {
  const own = links.filter(l => l.path === complementIndex);
  const g0 = d3.min(own, l => l.g0), g1 = d3.max(own, l => l.g1);
  const arc = pathArcs[complementIndex];
  const pt = (r, a) => [r * Math.sin(rad(a)), -r * Math.cos(rad(a))];
  const p = d3.path();
  const s = pt(chordIn, g0), e = pt(outerR, arc.a0);
  p.moveTo(s[0], s[1]);
  p.arc(0, 0, chordIn, rad(g0 - 90), rad(g1 - 90));
  p.quadraticCurveTo(-85, 25, 5, 168);
  p.quadraticCurveTo(12, 220, e[0], e[1]);
  p.arc(0, 0, outerR, rad(arc.a0 - 90), rad(arc.a1 - 90));
  p.lineTo(-2, 178);
  p.quadraticCurveTo(-85, 25, s[0], s[1]);
  p.closePath();
  gF.append("path").attr("d", p.toString()).attr("fill", pathwayColors[complementIndex]);
})();

// outer gene ring with gradient
const ringColor = d3.interpolateRgbBasis(ringStops);
const ringArc = d3.arc().innerRadius(ringIn).outerRadius(outerR);
gF.append("g").selectAll("path").data(d3.range(180, 360)).join("path")
  .attr("d", d => ringArc({ startAngle: rad(d), endAngle: rad(d + 1.08) }))
  .attr("fill", d => ringColor((d - 180) / 180));
// white gap between ring and ribbons on the gene side
gF.append("path").attr("d", d3.arc().innerRadius(chordIn + 0.3).outerRadius(ringIn)({ startAngle: Math.PI, endAngle: 2 * Math.PI })).attr("fill", "#fff");

// pathway p-value ring
const logPColor = d3.scaleLinear().domain([3.55, 5, 6, 7, 8, 9, 10, 11, 12, 12.8])
  .range(["#fff5ea", "#fde3c5", "#fbd29a", "#f6b87e", "#f4a26c", "#ee7c50", "#e05a3a", "#c93a2a", "#a51e24", "#7d1a20"]);
const pRingArc = d3.arc().innerRadius(pRingIn).outerRadius(pRingOut);
gF.append("g").selectAll("path").data(pathArcs).join("path")
  .attr("d", d => pRingArc({ startAngle: rad(d.a0), endAngle: rad(d.a1) }))
  .attr("fill", d => logPColor(pathwayLogP[d.i]));

// gene labels end at the ring; the reference tilts them flatter than radial on the left
const labelTilt = d3.scaleLinear()
  .domain([180, 226, 235, 240, 243, 254, 270, 288, 304, 311, 327, 342, 360])
  .range([-90, -45, -35, -24, -16, -6, 0, 5.5, 20, 31, 60, 72, 90]);
function geneLabel(g, a) {
  const r = outerR + 3;
  gF.append("text").text(g).attr("font-size", 15.8).attr("text-anchor", "end").attr("dominant-baseline", "central")
    .attr("transform", `translate(${r * Math.sin(rad(a))},${-r * Math.cos(rad(a))}) rotate(${labelTilt(a)})`);
}
lowerGenes.forEach((g, i) => geneLabel(g, lowerLabelAngles[i]));
upperGenes.forEach((g, i) => geneLabel(g, upperLabelAngles[i]));

// legends
const gL = svg.append("g");
txt(gL, 1394, 1302, "log10(pvalue)", 21.5);
const xLogP = d3.scaleLinear().domain([3.55, 12.78]).range([1391, 1593]);
gL.append("g").selectAll("rect").data(d3.range(3.55, 12.78, 9.23 / 24)).join("rect")
  .attr("x", d => xLogP(d)).attr("width", 202 / 24 + 0.4).attr("y", 1319).attr("height", 28)
  .attr("fill", d => logPColor(d + 0.15));
const alp = gL.append("g").attr("transform", "translate(0,1347)")
  .call(d3.axisBottom(xLogP).tickValues([4, 6, 8, 10, 12]).tickSize(8).tickSizeOuter(8).tickPadding(3));
styleAxis(alp, 16.5, 1.8);
txt(gL, 1394, 1397, "KEGG Pathways", 21);
const legendY = [1417.6, 1438, 1475, 1495.6, 1516.5, 1537, 1557, 1578, 1599, 1619, 1640.5, 1661.4, 1683, 1702, 1723, 1758];
pathways.forEach((p, i) => {
  gL.append("circle").attr("cx", 1399.5).attr("cy", legendY[i]).attr("r", 8.5).attr("fill", pathwayColors[i]);
  const parts = p.split("|");
  txt(gL, 1413, legendY[i] + 1, parts[0], 17.2);
  if (parts[1]) txt(gL, 1416, legendY[i] + 18, parts[1], 17.2);
});
</script>
</body>
</html>
